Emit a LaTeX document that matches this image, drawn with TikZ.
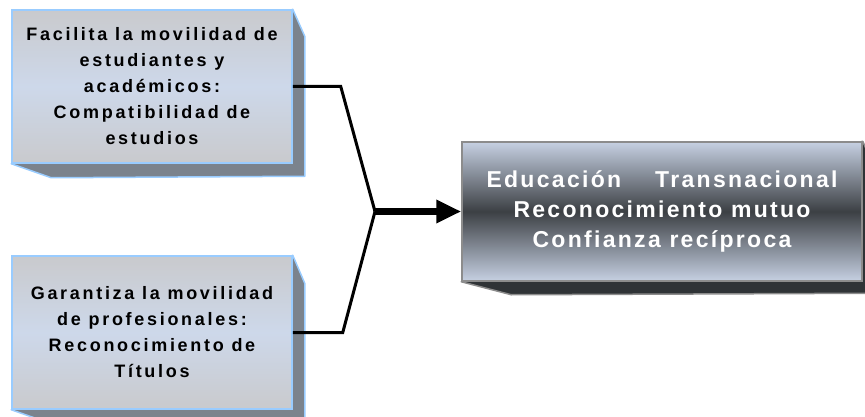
\documentclass[tikz,border=0pt]{standalone}
\usepackage{fontspec}
\usetikzlibrary{positioning}
\usetikzlibrary{arrows.meta}
\usetikzlibrary{backgrounds}
\newfontfamily\boxfont[LetterSpace=15]{Liberation Sans}
\newfontfamily\goalfont[LetterSpace=10]{Liberation Sans}
\definecolor{frontgrey}{HTML}{C9CACD}
\definecolor{frontblue}{HTML}{CDD8EA}
\definecolor{edgeblue}{HTML}{99CCFF}
\definecolor{sidegrey}{HTML}{7B838D}
\definecolor{steellight}{HTML}{C6D0E2}
\definecolor{steeldark}{HTML}{3C4044}
\definecolor{sidedark}{HTML}{2F3336}
\definecolor{edgegrey}{HTML}{8C8C8C}

\begin{document}
\begin{tikzpicture}[x=1pt,y=-1pt,
  lightbox/.style={draw=edgeblue, line width=1.5pt, top color=frontgrey, bottom color=frontgrey, middle color=frontblue,
    minimum width=280pt, minimum height=153pt, inner sep=0pt, align=center,
    font=\boxfont\bfseries\fontsize{18}{26}\selectfont},
  lightside/.style={fill=sidegrey, draw=edgeblue, line width=1.5pt, line join=round},
  darkbox/.style={draw=edgegrey, line width=1.5pt, top color=steellight, bottom color=steellight, middle color=steeldark,
    minimum width=400pt, minimum height=139pt, inner sep=0pt, align=center, text=white,
    font=\goalfont\bfseries\fontsize{23}{30}\selectfont},
  darkside/.style={fill=sidedark, draw=edgegrey, line width=1.5pt, line join=round},
  conn/.style={line width=3pt},
  bigarrow/.style={line width=7pt, -{Triangle[length=25pt,width=22pt]}}]

\useasboundingbox (0,0) rectangle (865,417);
\clip (0,0) rectangle (865,417);

% the three boxes
\node[lightbox] (study) at (152,86.5) {Facilita la movilidad de\\estudiantes y\\académicos:\\Compatibilidad de\\estudios};
\node[lightbox] (prof) at (152,332.5) {Garantiza la movilidad\\de profesionales:\\Reconocimiento de\\Títulos};
\node[darkbox] (trust) at (662,211.5) {\makebox[351pt][s]{Educación Transnacional}\\Reconocimiento mutuo\\Confianza recíproca};

% depth of the boxes
\begin{scope}[on background layer]
\clip (0,0) rectangle (865,417);
\filldraw[lightside] (study.north east) -- ++(12,27) -- ++(0,140) -- ([shift={(40,14)}]study.south west) -- (study.south west) -- cycle;
\filldraw[lightside] (prof.north east) -- ++(12,28) -- ++(0,141) -- ([shift={(40,14)}]prof.south west) -- (prof.south west) -- cycle;
\filldraw[darkside] (trust.north east) -- ++(12,28) -- ++(0,124) -- ([shift={(50,13)}]trust.south west) -- (trust.south west) -- cycle;
\end{scope}

% connectors
\coordinate (join) at (375,211.5);
\draw[conn] (study.east) -- ++(48,0) -- (join);
\draw[conn] (prof.east) -- ++(50,0) -- (join);
\draw[bigarrow] (join) -- (join -| trust.west);

\end{tikzpicture}
\end{document}
